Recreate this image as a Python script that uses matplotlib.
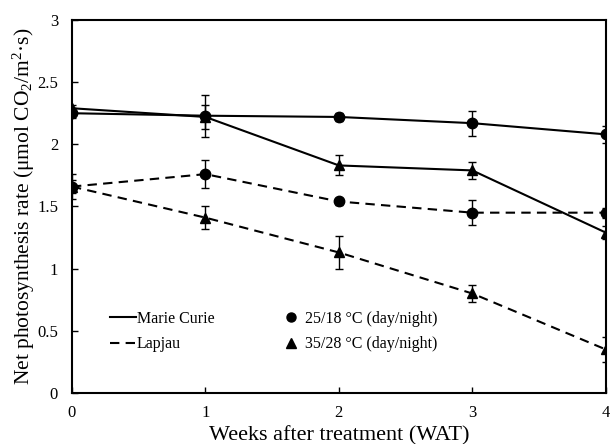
import matplotlib
matplotlib.use("Agg")
import matplotlib.pyplot as plt
from matplotlib.lines import Line2D

plt.rcParams['font.family'] = ['Liberation Serif', 'DejaVu Serif']
plt.rcParams['mathtext.fontset'] = 'custom'
plt.rcParams['mathtext.rm'] = 'Liberation Serif'
plt.rcParams['mathtext.it'] = 'Liberation Serif:italic'

weeks = [0, 1, 2, 3, 4]
mc_25 = [2.25, 2.23, 2.22, 2.17, 2.08]
mc_25_err = [0.04, 0.17, 0.03, 0.10, 0.07]
mc_35 = [2.29, 2.22, 1.83, 1.79, 1.29]
mc_35_err = [0.03, 0.10, 0.08, 0.07, 0.05]
lj_25 = [1.66, 1.76, 1.54, 1.45, 1.45]
lj_25_err = [0.10, 0.11, 0.03, 0.10, 0.04]
lj_35 = [1.66, 1.41, 1.13, 0.80, 0.35]
lj_35_err = [0.05, 0.09, 0.13, 0.07, 0.10]

fig = plt.figure(figsize=(6.1, 4.44), dpi=100)
ax = fig.add_axes([0.118, 0.115, 0.875, 0.84])

common = dict(color='black', lw=1.5, elinewidth=1.0, capsize=3, capthick=1.0)
ax.errorbar(weeks, mc_25, yerr=mc_25_err, fmt='-o', ms=7.5, **common)
ax.errorbar(weeks, mc_35, yerr=mc_35_err, fmt='-^', ms=7.5, **common)
ax.errorbar(weeks, lj_25, yerr=lj_25_err, fmt='--o', ms=7.5, dashes=(4.5, 3), **common)
ax.errorbar(weeks, lj_35, yerr=lj_35_err, fmt='--^', ms=7.5, dashes=(4.5, 3), **common)

ax.set_xlim(0, 4)
ax.set_ylim(0, 3)
ax.set_xticks([0, 1, 2, 3, 4])
ax.set_yticks([0, 0.5, 1, 1.5, 2, 2.5, 3])
ax.set_yticklabels(['0', '0.5', '1', '1.5', '2', '2.5', '3'])
ax.tick_params(direction='in', length=4, width=1.0, labelsize=12)
ax.tick_params(axis='x', pad=9)
ax.tick_params(axis='y', pad=10)
for s in ax.spines.values():
    s.set_linewidth(1.5)

ax.set_xlabel('Weeks after treatment (WAT)', fontsize=16, labelpad=3)
ax.set_ylabel('Net photosynthesis rate (μmol CO$_2$/m$^2$·s)', fontsize=15.5, labelpad=0)

handles = [
    Line2D([], [], color='black', lw=1.5, ls='-'),
    Line2D([], [], color='black', lw=1.5, ls=(0, (4.5, 3))),
    Line2D([], [], color='black', lw=0, marker='o', ms=6.5),
    Line2D([], [], color='black', lw=0, marker='^', ms=6.5),
]
labels = ['Marie Curie', 'Lapjau', '25/18 °C (day/night)', '35/28 °C (day/night)']
ax.legend(handles, labels, ncol=2, loc='lower left', bbox_to_anchor=(0.045, 0.07),
          frameon=False, fontsize=11.5, handlelength=1.6, handletextpad=0.05,
          columnspacing=4.0, labelspacing=0.6)

fig.savefig('out.png', dpi=100)
